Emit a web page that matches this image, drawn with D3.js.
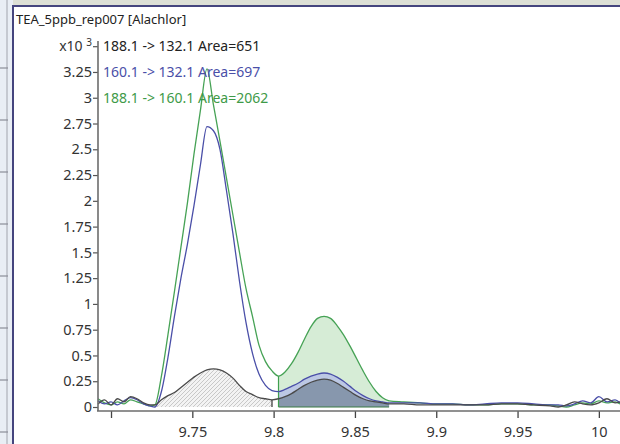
<!DOCTYPE html>
<html>
<head>
<meta charset="utf-8">
<script src="https://cdn.jsdelivr.net/npm/d3@7"></script>
<style>
  html, body { margin: 0; padding: 0; background: #fff; }
  svg { display: block; }
  text { font-family: "Noto Sans", "Open Sans", sans-serif; }
</style>
</head>
<body>
<svg id="chart" width="620" height="444"></svg>
<script>
// Retention time (min)
const rt = [
  9.692, 9.696, 9.700, 9.704, 9.708, 9.712, 9.716, 9.720, 9.724, 9.727,
  9.731, 9.735, 9.739, 9.743, 9.747, 9.751, 9.755, 9.759, 9.763, 9.767,
  9.771, 9.775, 9.779, 9.783, 9.787, 9.791, 9.795, 9.799, 9.803,
  9.807, 9.811, 9.815, 9.819, 9.823, 9.827, 9.831, 9.835, 9.839, 9.843,
  9.847, 9.851, 9.855, 9.859, 9.863, 9.867, 9.871,
  9.880, 9.890, 9.900, 9.910, 9.920, 9.930, 9.940, 9.950, 9.960, 9.970,
  9.975, 9.980, 9.985, 9.990, 9.995, 10.000, 10.005, 10.010, 10.013
];

// Counts (x10^3) for each transition
const mrm188_132 = [
  0.03, 0.07, 0.02, 0.08, 0.05, 0.10, 0.08, 0.04, 0.02, 0.02,
  0.07, 0.11, 0.14, 0.19, 0.24, 0.29, 0.33, 0.36, 0.37, 0.36,
  0.33, 0.28, 0.21, 0.15, 0.12, 0.09, 0.08, 0.07, 0.08,
  0.10, 0.13, 0.17, 0.21, 0.24, 0.26, 0.27, 0.26, 0.23, 0.19,
  0.15, 0.11, 0.08, 0.06, 0.05, 0.04, 0.03,
  0.03, 0.02, 0.02, 0.02, 0.02, 0.02, 0.03, 0.03, 0.02, 0.01,
  0.00, 0.02, 0.05, 0.03, 0.02, 0.04, 0.08, 0.04, 0.05
];
const mrm160_132 = [
  0.06, 0.03, 0.05, 0.02, 0.06, 0.09, 0.07, 0.03, 0.01, 0.00,
  0.15, 0.48, 0.88, 1.25, 1.58, 1.95, 2.35, 2.72, 2.68, 2.50,
  2.10, 1.68, 1.22, 0.82, 0.52, 0.32, 0.21, 0.16, 0.15,
  0.17, 0.20, 0.23, 0.27, 0.30, 0.32, 0.33, 0.32, 0.29, 0.25,
  0.20, 0.15, 0.11, 0.08, 0.06, 0.05, 0.04,
  0.04, 0.04, 0.03, 0.03, 0.02, 0.03, 0.04, 0.04, 0.03, 0.02,
  0.02, 0.01, 0.03, 0.06, 0.04, 0.10, 0.05, 0.07, 0.04
];
const mrm188_160 = [
  0.08, 0.04, 0.02, 0.05, 0.03, 0.07, 0.05, 0.03, 0.01, 0.02,
  0.30, 0.70, 1.12, 1.55, 1.98, 2.45, 2.88, 3.28, 2.93, 2.58,
  2.22, 1.86, 1.50, 1.15, 0.88, 0.60, 0.44, 0.35, 0.30,
  0.34, 0.42, 0.53, 0.66, 0.78, 0.86, 0.88, 0.86, 0.79, 0.70,
  0.59, 0.47, 0.35, 0.24, 0.15, 0.09, 0.06,
  0.05, 0.04, 0.03, 0.03, 0.02, 0.02, 0.03, 0.03, 0.02, 0.02,
  0.01, 0.00, 0.02, 0.04, 0.03, 0.06, 0.04, 0.05, 0.03
];

// Legend entries
const legendLabels = [
  "188.1 -> 132.1 Area=651",
  "160.1 -> 132.1 Area=697",
  "188.1 -> 160.1 Area=2062"
];
const title = "TEA_5ppb_rep007 [Alachlor]";

// Axis ticks
const xTicks = [9.7, 9.75, 9.8, 9.85, 9.9, 9.95, 10];
const yTicks = [0, 0.25, 0.5, 0.75, 1, 1.25, 1.5, 1.75, 2, 2.25, 2.5, 2.75, 3, 3.25, 3.5];

// Integration windows (min)
const peak1Window = [9.727, 9.799];
const peak2Window = [9.803, 9.871];

const svg = d3.select("#chart");

// ---- window chrome ----
svg.append("rect").attr("x", 0).attr("y", 0).attr("width", 620).attr("height", 444).attr("fill", "#fff");
svg.append("rect").attr("x", 0).attr("y", 0).attr("width", 13).attr("height", 444).attr("fill", "#e9eef5");
svg.append("line").attr("x1", 7).attr("x2", 7).attr("y1", 0).attr("y2", 444)
  .attr("stroke", "#b8bcc4").attr("stroke-width", 1.5);
d3.range(68, 444, 52).forEach(yy => {
  svg.append("line").attr("x1", 0).attr("x2", 8).attr("y1", yy).attr("y2", yy)
    .attr("stroke", "#8a8e98").attr("stroke-width", 1.2);
});
svg.append("rect").attr("x", 13).attr("y", 0).attr("width", 607).attr("height", 5).attr("fill", "#dde0d6");
svg.append("line").attr("x1", 12).attr("x2", 620).attr("y1", 6).attr("y2", 6)
  .attr("stroke", "#45457e").attr("stroke-width", 2);
svg.append("line").attr("x1", 13).attr("x2", 13).attr("y1", 5).attr("y2", 444)
  .attr("stroke", "#45457e").attr("stroke-width", 2);

// ---- scales ----
const x = d3.scaleLinear().domain([9.692, 10.013]).range([98, 620]);
const y = d3.scaleLinear().domain([0, 3.5]).range([407, 46.2]);

const defs = svg.append("defs");
const hatch = defs.append("pattern").attr("id", "hatch")
  .attr("patternUnits", "userSpaceOnUse").attr("width", 4).attr("height", 4);
hatch.append("rect").attr("width", 4).attr("height", 4).attr("fill", "#f3f3f3");
hatch.append("path").attr("d", "M-1,1 l2,-2 M0,4 l4,-4 M3,5 l2,-2")
  .attr("stroke", "#bdbdbd").attr("stroke-width", 0.8);

const rows = rt.map((t, i) => ({ t, a: mrm188_132[i], b: mrm160_132[i], c: mrm188_160[i] }));
const inWin = w => rows.filter(d => d.t >= w[0] - 1e-9 && d.t <= w[1] + 1e-9);

const area = key => d3.area().x(d => x(d.t)).y0(y(0)).y1(d => y(d[key])).curve(d3.curveMonotoneX);
const line = key => d3.line().x(d => x(d.t)).y(d => y(d[key])).curve(d3.curveMonotoneX);

// ---- integrated peak fills ----
svg.append("path").datum(inWin(peak2Window)).attr("d", area("c")).attr("fill", "#d6ecd6");
svg.append("path").datum(inWin(peak2Window)).attr("d", area("b")).attr("fill", "#bcc8e4");
svg.append("path").datum(inWin(peak2Window)).attr("d", area("a")).attr("fill", "#8797ad");
svg.append("path").datum(inWin(peak1Window)).attr("d", area("a")).attr("fill", "url(#hatch)");

// integration baselines and drop lines
const p2 = inWin(peak2Window);
svg.append("line").attr("x1", x(peak2Window[0])).attr("x2", x(peak2Window[1]))
  .attr("y1", y(0)).attr("y2", y(0)).attr("stroke", "#3a7a44").attr("stroke-width", 1.2);
svg.append("line").attr("x1", x(peak2Window[0])).attr("x2", x(peak2Window[0]))
  .attr("y1", y(0)).attr("y2", y(p2[0].c)).attr("stroke", "#3f9f4f").attr("stroke-width", 1.2);
svg.append("line").attr("x1", x(peak1Window[1])).attr("x2", x(peak1Window[1]))
  .attr("y1", y(0)).attr("y2", y(inWin(peak1Window).slice(-1)[0].a))
  .attr("stroke", "#333").attr("stroke-width", 1.2);

// ---- traces ----
svg.append("path").datum(rows).attr("d", line("c")).attr("fill", "none")
  .attr("stroke", "#46a255").attr("stroke-width", 1.3);
svg.append("path").datum(rows).attr("d", line("b")).attr("fill", "none")
  .attr("stroke", "#4a4fa8").attr("stroke-width", 1.3);
svg.append("path").datum(rows).attr("d", line("a")).attr("fill", "none")
  .attr("stroke", "#4a4a4a").attr("stroke-width", 1.3);

// ---- axes ----
const fmt = d => String(+d.toFixed(2));
const xAxis = d3.axisBottom(x).tickValues(xTicks).tickSize(7).tickSizeOuter(0)
  .tickFormat(d => d === 9.7 ? "" : fmt(d));
const gx = svg.append("g").attr("transform", "translate(0,411)").call(xAxis);
gx.select(".domain").remove();
gx.selectAll(".tick line").attr("stroke", "#444").attr("stroke-width", 1.3);
gx.selectAll(".tick text").attr("fill", "#333").attr("font-size", 14.5).attr("dy", "1.1em");
svg.append("line").attr("x1", 97).attr("x2", 620).attr("y1", 411).attr("y2", 411)
  .attr("stroke", "#6c6c6c").attr("stroke-width", 1.6);

const yAxis = d3.axisLeft(y).tickValues(yTicks).tickSize(5).tickSizeOuter(0)
  .tickFormat(d => d === 3.5 ? "" : fmt(d));
const gy = svg.append("g").attr("transform", "translate(98,0)").call(yAxis);
gy.select(".domain").remove();
gy.selectAll(".tick line").attr("stroke", "#555").attr("stroke-width", 1.2);
gy.selectAll(".tick text").attr("fill", "#333").attr("font-size", 14.5).attr("x", -6);
svg.append("line").attr("x1", 98).attr("x2", 98).attr("y1", 41).attr("y2", 411)
  .attr("stroke", "#6c6c6c").attr("stroke-width", 1.6);

// exponent label at the top tick
const expo = svg.append("text").attr("x", 92).attr("y", y(3.5) + 5)
  .attr("text-anchor", "end").attr("fill", "#333").attr("font-size", 14);
expo.append("tspan").text("x10 ");
expo.append("tspan").attr("font-size", 10).attr("dy", -5).text("3");

// ---- title and legend ----
svg.append("text").attr("x", 16).attr("y", 24).attr("fill", "#222").attr("font-size", 13)
  .text(title);
const legendColors = ["#222222", "#4a4fa8", "#3e9a48"];
legendLabels.forEach((s, i) => {
  svg.append("text").attr("x", 103).attr("y", y(3.5 - i * 0.25) + 5)
    .attr("fill", legendColors[i]).attr("font-size", 14).text(s);
});
</script>
</body>
</html>
